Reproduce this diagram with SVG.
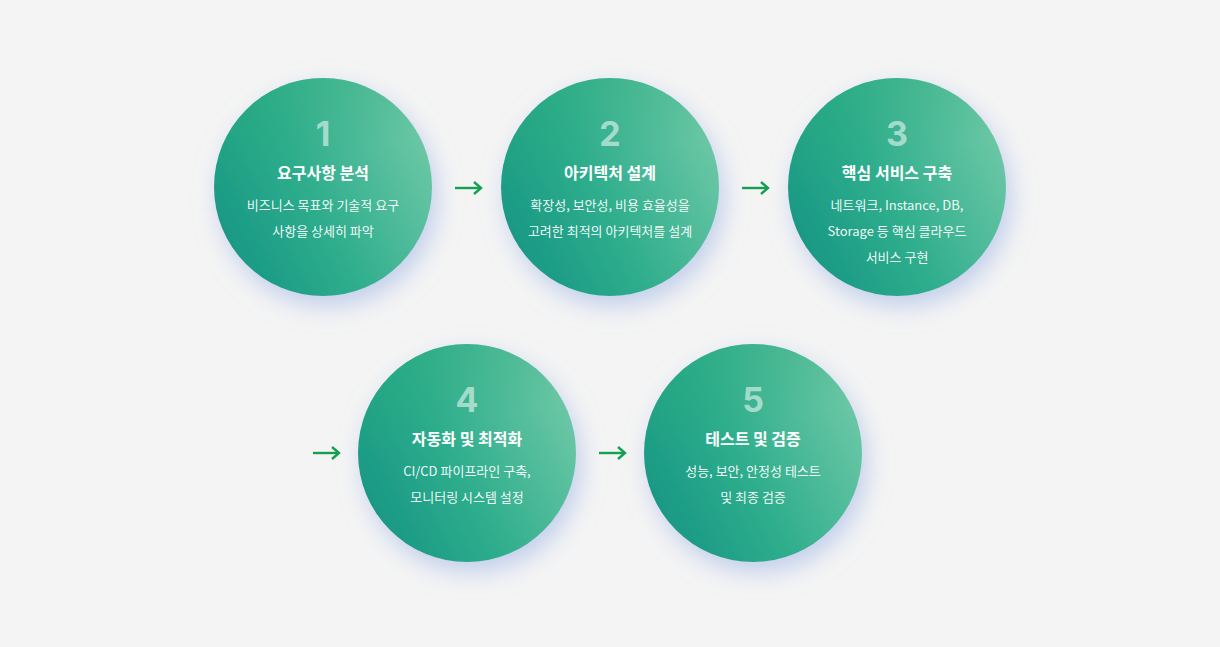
<svg xmlns="http://www.w3.org/2000/svg" width="1220" height="647" viewBox="0 0 1220 647">
<defs>
<linearGradient id="g" x1="0" y1="0.75" x2="1" y2="0.25">
<stop offset="0" stop-color="#169683"/>
<stop offset="0.45" stop-color="#2fae8d"/>
<stop offset="1" stop-color="#70c9a7"/>
</linearGradient>
<linearGradient id="g2" x1="0" y1="0" x2="0.3" y2="1">
<stop offset="0" stop-color="#22a878" stop-opacity="0.5"/>
<stop offset="0.5" stop-color="#22a878" stop-opacity="0"/>
</linearGradient>
<filter id="sh" x="-40%" y="-40%" width="180%" height="180%">
<feDropShadow dx="5" dy="10" stdDeviation="12" flood-color="#9db6e6" flood-opacity="0.6"/>
</filter>
<marker id="ah" markerWidth="12" markerHeight="14" refX="9" refY="7" orient="auto" markerUnits="userSpaceOnUse">
<path d="M2,1 L9,7 L2,13" fill="none" stroke="#13a04f" stroke-width="2.4"/>
</marker>
</defs>
<style>
.num{font-family:Inter,"Liberation Sans",sans-serif;font-weight:700;font-size:34px;fill:#fff;fill-opacity:0.55;text-anchor:middle}
.t{font-family:"Noto Sans CJK KR","Noto Sans",sans-serif;font-weight:700;font-size:16px;fill:#fff;text-anchor:middle}
.d{font-family:"Noto Sans CJK KR","Noto Sans",sans-serif;font-size:13px;fill:#fff;fill-opacity:0.95;text-anchor:middle}
.a{stroke:#13a04f;stroke-width:2.4;fill:none}
</style>
<rect width="1220" height="647" fill="#f4f4f4"/>
<g id="connectors">
<line class="a" x1="455" y1="188" x2="481" y2="188" marker-end="url(#ah)"/>
<line class="a" x1="742" y1="188" x2="768" y2="188" marker-end="url(#ah)"/>
<line class="a" x1="313" y1="453" x2="339" y2="453" marker-end="url(#ah)"/>
<line class="a" x1="599" y1="453" x2="625" y2="453" marker-end="url(#ah)"/>
</g>
<g id="n1">
<circle cx="323" cy="187" r="109" fill="url(#g)" filter="url(#sh)"/><circle cx="323" cy="187" r="109" fill="url(#g2)"/>
<text class="num" x="323" y="146">1</text>
<text class="t" x="323" y="179">요구사항 분석</text>
<text class="d" x="323" y="210">비즈니스 목표와 기술적 요구</text>
<text class="d" x="323" y="236">사항을 상세히 파악</text>
</g>
<g id="n2">
<circle cx="610" cy="187" r="109" fill="url(#g)" filter="url(#sh)"/><circle cx="610" cy="187" r="109" fill="url(#g2)"/>
<text class="num" x="610" y="146">2</text>
<text class="t" x="610" y="179">아키텍처 설계</text>
<text class="d" x="610" y="210">확장성,  보안성, 비용 효율성을</text>
<text class="d" x="610" y="236">고려한 최적의 아키텍처를 설계</text>
</g>
<g id="n3">
<circle cx="897" cy="187" r="109" fill="url(#g)" filter="url(#sh)"/><circle cx="897" cy="187" r="109" fill="url(#g2)"/>
<text class="num" x="897" y="146">3</text>
<text class="t" x="897" y="179">핵심 서비스 구축</text>
<text class="d" x="897" y="210">네트워크, Instance, DB,</text>
<text class="d" x="897" y="236">Storage 등 핵심 클라우드</text>
<text class="d" x="897" y="262">서비스 구현</text>
</g>
<g id="n4">
<circle cx="467" cy="453" r="109" fill="url(#g)" filter="url(#sh)"/><circle cx="467" cy="453" r="109" fill="url(#g2)"/>
<text class="num" x="467" y="412">4</text>
<text class="t" x="467" y="445">자동화 및 최적화</text>
<text class="d" x="467" y="476">CI/CD 파이프라인 구축,</text>
<text class="d" x="467" y="502">모니터링 시스템 설정</text>
</g>
<g id="n5">
<circle cx="753" cy="453" r="109" fill="url(#g)" filter="url(#sh)"/><circle cx="753" cy="453" r="109" fill="url(#g2)"/>
<text class="num" x="753" y="412">5</text>
<text class="t" x="753" y="445">테스트 및 검증</text>
<text class="d" x="753" y="476">성능, 보안, 안정성 테스트</text>
<text class="d" x="753" y="502">및 최종 검증</text>
</g>
</svg>
